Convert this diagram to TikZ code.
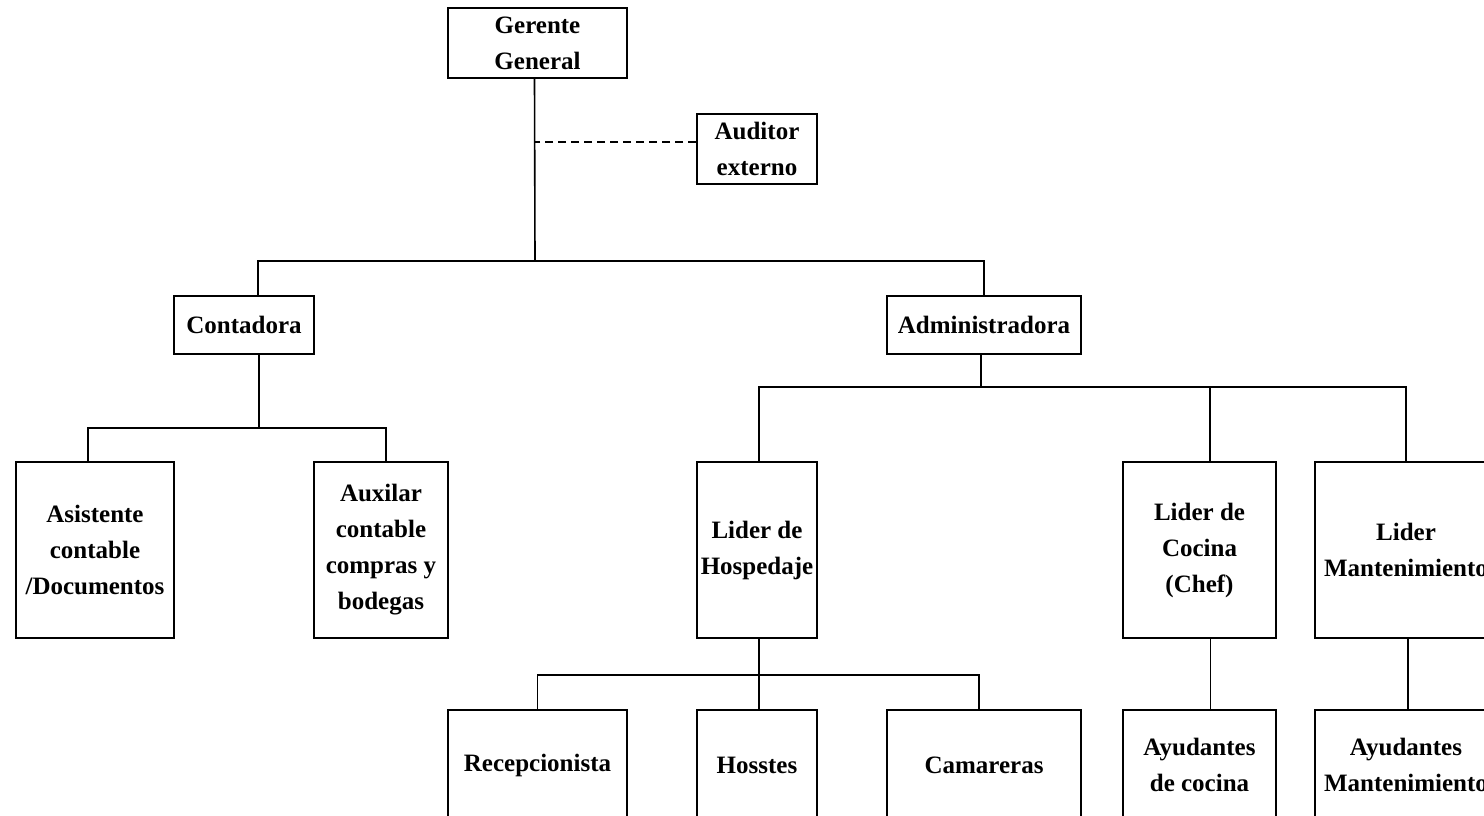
\documentclass[tikz,border=0pt]{standalone}
\usepackage{fontspec}
\setmainfont{Liberation Serif}

\begin{document}
\begin{tikzpicture}[x=0.5pt,y=-0.5pt,
  puesto/.style={draw, line width=0.9pt, align=center, inner sep=0pt,
    font=\bfseries\fontsize{12.5}{18}\selectfont},
  linea/.style={line width=0.8pt},
  punteada/.style={line width=0.8pt, dash pattern=on 4pt off 2.5pt}]

\useasboundingbox (0,0) rectangle (1484,815);
\clip (0,0) rectangle (1484,815);

%Direccion
\node[puesto, minimum width=89.5pt, minimum height=35pt] (gerente) at (537.5,43) {Gerente\\General};
\node[puesto, minimum width=60pt, minimum height=35pt] (auditor) at (757,149) {Auditor\\externo};

%Segundo nivel
\node[puesto, minimum width=70pt, minimum height=29pt] (contadora) at (244,325) {Contadora};
\node[puesto, minimum width=97pt, minimum height=29pt] (admin) at (984,325) {Administradora};

%Tercer nivel
\node[puesto, minimum width=79pt, minimum height=88pt] (asistente) at (95,550) {Asistente\\contable\\/Documentos};
\node[puesto, minimum width=67pt, minimum height=88pt] (auxilar) at (381,550) {Auxilar\\contable\\compras y\\bodegas};
\node[puesto, minimum width=60pt, minimum height=88pt] (hospedaje) at (757,550) {Lider de\\Hospedaje};
\node[puesto, minimum width=76.5pt, minimum height=88pt] (cocina) at (1199.5,550) {Lider de\\Cocina\\(Chef)};
\node[puesto, minimum width=91pt, minimum height=88pt] (mant) at (1406,550) {Lider\\Mantenimiento};

%Cuarto nivel
\node[puesto, minimum width=89.5pt, minimum height=55pt] (recepcion) at (537.5,765) {Recepcionista};
\node[puesto, minimum width=60pt, minimum height=55pt] (hosstes) at (757,765) {Hosstes};
\node[puesto, minimum width=97pt, minimum height=55pt] (camareras) at (984,765) {Camareras};
\node[puesto, minimum width=76.5pt, minimum height=55pt] (aycocina) at (1199.5,765) {Ayudantes\\de cocina};
\node[puesto, minimum width=91pt, minimum height=55pt] (aymant) at (1406,765) {Ayudantes\\Mantenimiento};

%Lineas de mando
\coordinate (busA) at (535,261);
\coordinate (busB) at (259,428);
\coordinate (busC) at (981,387);
\coordinate (busD) at (759,675);

\draw[linea] ([xshift=-1.5pt]gerente.south) -- (busA);
\draw[punteada] ([yshift=3.5pt]auditor.west) -- ([yshift=3.5pt]auditor.west -| busA);
\draw[linea] ([xshift=7pt]contadora.north) |- (busA) -| (admin.north);

\draw[linea] ([xshift=7.5pt]contadora.south) -- (busB);
\draw[linea] ([xshift=-3.5pt]asistente.north) |- (busB) -| ([xshift=2.5pt]auxilar.north);

\draw[linea] ([xshift=-1.5pt]admin.south) -- (busC);
\draw[linea] ([xshift=1pt]hospedaje.north) |- (busC) -| (mant.north);
\draw[linea] ([xshift=5.25pt]cocina.north) -- ([xshift=5.25pt]cocina.north |- busC);

\draw[linea] ([xshift=1pt]hospedaje.south) -- ([xshift=1pt]hosstes.north);
\draw[linea] (recepcion.north) |- (busD) -| ([xshift=-2.5pt]camareras.north);
\draw[linea] ([xshift=5.5pt]cocina.south) -- ([xshift=5.5pt]aycocina.north);
\draw[linea] ([xshift=1pt]mant.south) -- ([xshift=1pt]aymant.north);

\end{tikzpicture}
\end{document}
